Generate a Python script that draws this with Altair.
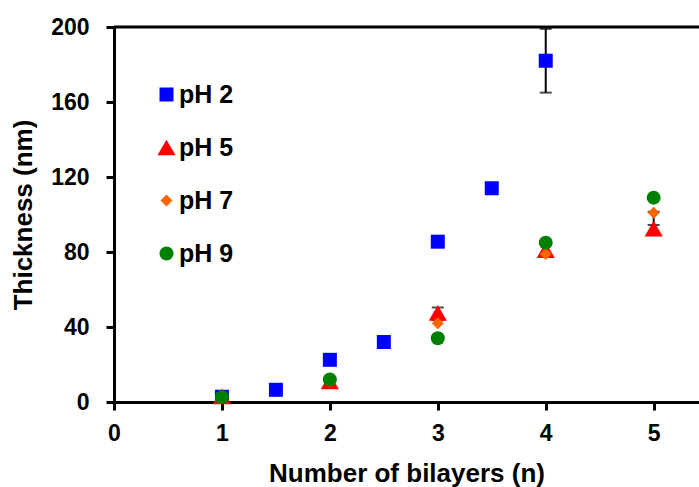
import altair as alt
import pandas as pd

# ---- data ----
x_ph2 = [1, 1.5, 2, 2.5, 3, 3.5, 4]
y_ph2 = [2.8, 6.5, 22.5, 32, 85.5, 114, 182]
x_other = [1, 2, 3, 4, 5]
y_ph5 = [3, 11, 47.5, 81, 92.5]
y_ph7 = [3, 11, 42, 79, 101]
y_ph9 = [2.5, 12, 34, 85, 109]

err_x = [4, 3, 5]
err_lo = [165, 43.7, 94.4]
err_hi = [199, 50.4, 101.5]

series = ["pH 2", "pH 5", "pH 7", "pH 9"]
colors = ["#0000FF", "#FF0000", "#FF6600", "#008000"]
shapes = ["square", "triangle-up", "diamond", "circle"]
sizes = [196, 330, 144, 196]

rows = []
for x, y in zip(x_ph2, y_ph2):
    rows.append({"n": x, "t": y, "s": "pH 2"})
for name, ys in [("pH 5", y_ph5), ("pH 7", y_ph7), ("pH 9", y_ph9)]:
    for x, y in zip(x_other, ys):
        rows.append({"n": x, "t": y, "s": name})
df = pd.DataFrame(rows)
df["order"] = df["s"].map({s: i for i, s in enumerate(series)})

err = pd.DataFrame({"n": err_x, "lo": err_lo, "hi": err_hi})

FONT = "Liberation Sans"
xscale = alt.Scale(domain=[0, 5.42], nice=False, zero=False)
yscale = alt.Scale(domain=[0, 200], nice=False)

xaxis = alt.Axis(values=[0, 1, 2, 3, 4, 5], format="d", title="Number of bilayers (n)",
                 grid=False, domainColor="black", domainWidth=3, tickColor="black",
                 tickWidth=3, tickSize=8, labelFont=FONT, labelFontSize=23,
                 labelFontWeight="bold", labelColor="black", labelPadding=12,
                 titleFont=FONT, titleFontSize=26, titleFontWeight="bold",
                 titleColor="black", titlePadding=15, labelFlush=False)
yaxis = alt.Axis(values=[0, 40, 80, 120, 160, 200], title="Thickness (nm)",
                 grid=False, domainColor="black", domainWidth=3, tickColor="black",
                 tickWidth=3, tickSize=8, labelFont=FONT, labelFontSize=23,
                 labelFontWeight="bold", labelColor="black", labelPadding=17,
                 titleFont=FONT, titleFontSize=26, titleFontWeight="bold",
                 titleColor="black", titlePadding=14, labelFlush=False)

topline = alt.Chart(pd.DataFrame({"v": [200]})).mark_rule(color="black", strokeWidth=3).encode(
    y=alt.Y("v:Q", scale=yscale, axis=yaxis)
)

errline = alt.Chart(err).mark_rule(color="black", strokeWidth=2).encode(
    x=alt.X("n:Q", scale=xscale, axis=xaxis),
    y=alt.Y("lo:Q", scale=yscale, axis=yaxis),
    y2="hi:Q",
)
caps_lo = alt.Chart(err).mark_tick(color="black", thickness=2, size=12, orient="horizontal").encode(
    x=alt.X("n:Q", scale=xscale, axis=xaxis),
    y=alt.Y("lo:Q", scale=yscale, axis=yaxis),
)
caps_hi = alt.Chart(err).mark_tick(color="black", thickness=2, size=12, orient="horizontal").encode(
    x=alt.X("n:Q", scale=xscale, axis=xaxis),
    y=alt.Y("hi:Q", scale=yscale, axis=yaxis),
)

legend = alt.Legend(title=None, orient="none", legendX=40, legendY=55,
                    labelFont=FONT, labelFontSize=25, labelFontWeight="bold",
                    labelColor="black", symbolSize=190, symbolStrokeWidth=0,
                    rowPadding=27, labelOffset=0, padding=0, symbolOpacity=1)

points = alt.Chart(df).mark_point(filled=True, opacity=1, strokeWidth=0).encode(
    x=alt.X("n:Q", scale=xscale, axis=xaxis),
    y=alt.Y("t:Q", scale=yscale, axis=yaxis),
    color=alt.Color("s:N", scale=alt.Scale(domain=series, range=colors), legend=legend),
    shape=alt.Shape("s:N", scale=alt.Scale(domain=series, range=shapes), legend=legend),
    size=alt.Size("s:N", scale=alt.Scale(type="ordinal", domain=series, range=sizes), legend=legend),
    order=alt.Order("order:Q"),
)

chart = alt.layer(topline, errline, caps_lo, caps_hi, points).properties(
    width=585, height=375,
    autosize=alt.AutoSizeParams(type="none"),
    padding={"left": 114, "top": 27, "right": 0, "bottom": 85},
).configure_view(stroke=None).configure(background="white")

chart.save("out.html", embed_options={"renderer": "svg", "actions": False})
